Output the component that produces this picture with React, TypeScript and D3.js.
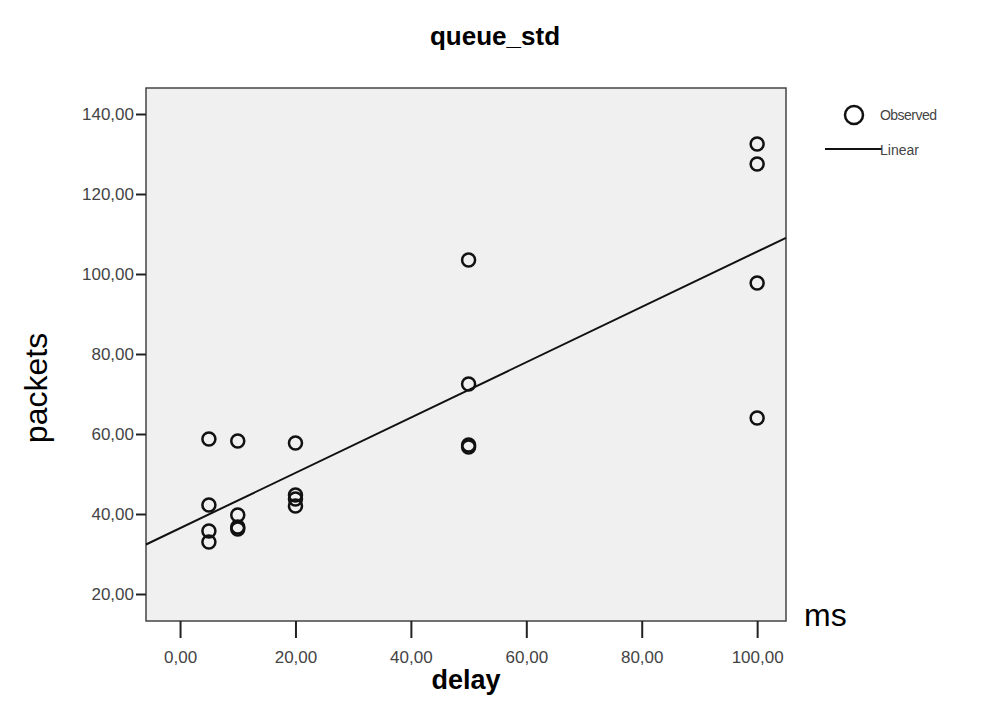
import React, { useEffect, useRef } from "react";
import * as d3 from "d3";

const width = 986;
const height = 717;
const marginTop = 88;
const marginRight = 200;
const marginBottom = 96;
const marginLeft = 146;

// delay (ms) per run and the observed queue std (packets)
const delays = [5, 5, 5, 5, 10, 10, 10, 10, 20, 20, 20, 20, 50, 50, 50, 50, 100, 100, 100, 100];
const packets = [
  58.75, 42.25, 35.75, 33, 58.25, 39.75, 36.75, 36.25, 57.75, 44.75, 43.75, 42, 103.5, 72.5, 57.25,
  56.75, 132.5, 127.5, 97.75, 64,
];
const xTicks = [0, 20, 40, 60, 80, 100];
const yTicks = [20, 40, 60, 80, 100, 120, 140];

const fmt = (v: number) => d3.format(".2f")(v).replace(".", ",");
const font = "Liberation Sans, Arial, sans-serif";

export default function App() {
  const ref = useRef<SVGSVGElement>(null);

  useEffect(() => {
    const svg = d3.select(ref.current);
    svg.selectAll("*").remove();

    const x = d3.scaleLinear().domain([-5.9, 105]).range([marginLeft, width - marginRight]);
    const y = d3.scaleLinear().domain([13.25, 146.5]).range([height - marginBottom, marginTop]);

    // plot background + frame
    svg
      .append("rect")
      .attr("x", marginLeft)
      .attr("y", marginTop)
      .attr("width", width - marginRight - marginLeft)
      .attr("height", height - marginBottom - marginTop)
      .attr("fill", "#f0f0f0")
      .attr("stroke", "#444")
      .attr("stroke-width", 1.5);

    // axes
    svg
      .append("g")
      .attr("transform", `translate(0,${height - marginBottom})`)
      .call(d3.axisBottom(x).tickValues(xTicks).tickSize(17).tickPadding(13).tickFormat(d => fmt(+d)))
      .call(g => g.select(".domain").remove())
      .call(g => g.selectAll(".tick line").attr("stroke", "#222").attr("stroke-width", 2))
      .call(g => g.selectAll(".tick text").attr("fill", "#444").attr("font-size", 17).attr("font-family", font));

    svg
      .append("g")
      .attr("transform", `translate(${marginLeft},0)`)
      .call(d3.axisLeft(y).tickValues(yTicks).tickSize(10).tickPadding(2).tickFormat(d => fmt(+d)))
      .call(g => g.select(".domain").remove())
      .call(g => g.selectAll(".tick line").attr("stroke", "#222").attr("stroke-width", 2))
      .call(g => g.selectAll(".tick text").attr("fill", "#444").attr("font-size", 17).attr("font-family", font));

    // linear fit
    const mx = d3.mean(delays)!;
    const my = d3.mean(packets)!;
    const sxy = d3.sum(delays, (d, i) => (d - mx) * (packets[i] - my));
    const sxx = d3.sum(delays, d => (d - mx) * (d - mx));
    const slope = sxy / sxx;
    const icpt = my - slope * mx;
    const [x0, x1] = x.domain();

    svg
      .append("path")
      .datum([x0, x1])
      .attr("fill", "none")
      .attr("stroke", "#111")
      .attr("stroke-width", 2)
      .attr(
        "d",
        d3
          .line<number>()
          .x(d => x(d))
          .y(d => y(icpt + slope * d))
      );

    // observed points
    svg
      .append("g")
      .selectAll("circle")
      .data(delays)
      .join("circle")
      .attr("cx", d => x(d))
      .attr("cy", (d, i) => y(packets[i]))
      .attr("r", 6.5)
      .attr("fill", "none")
      .attr("stroke", "#111")
      .attr("stroke-width", 2.5);

    // titles
    svg
      .append("text")
      .attr("x", 495)
      .attr("y", 45)
      .attr("text-anchor", "middle")
      .attr("font-family", font)
      .attr("font-weight", "bold")
      .attr("font-size", 26)
      .text("queue_std");

    svg
      .append("text")
      .attr("x", 466)
      .attr("y", 689)
      .attr("text-anchor", "middle")
      .attr("font-family", font)
      .attr("font-weight", "bold")
      .attr("font-size", 27)
      .text("delay");

    svg
      .append("text")
      .attr("x", 804)
      .attr("y", 626)
      .attr("font-family", font)
      .attr("font-size", 32)
      .text("ms");

    svg
      .append("text")
      .attr("transform", "translate(47,388) rotate(-90)")
      .attr("text-anchor", "middle")
      .attr("font-family", font)
      .attr("font-size", 32)
      .text("packets");

    // legend
    const lg = svg.append("g").attr("font-family", font).attr("font-size", 14).attr("fill", "#444");
    lg.append("circle").attr("cx", 854).attr("cy", 115).attr("r", 9).attr("fill", "none").attr("stroke", "#111").attr("stroke-width", 2.5);
    lg.append("text").attr("x", 880).attr("y", 120).attr("textLength", 57).text("Observed");
    lg.append("line").attr("x1", 825).attr("x2", 882).attr("y1", 149).attr("y2", 149).attr("stroke", "#111").attr("stroke-width", 2);
    lg.append("text").attr("x", 880).attr("y", 155).text("Linear");
  }, []);

  return (
    <svg
      ref={ref}
      width={width}
      height={height}
      viewBox={`0 0 ${width} ${height}`}
      style={{ position: "absolute", left: 0, top: 0, background: "#fff" }}
    ></svg>
  );
}
